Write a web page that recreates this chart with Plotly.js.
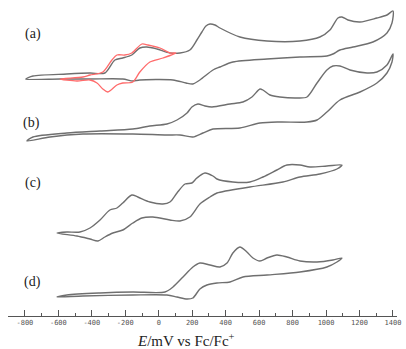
<!DOCTYPE html>
<html>
<head>
<meta charset="utf-8">
<script src="https://cdn.plot.ly/plotly-3.0.1.min.js"></script>
<style>html,body{margin:0;padding:0;background:#fff;}#chart{width:406px;height:349px;}</style>
</head>
<body>
<div id="chart"></div>
<script>
// Potentials (mV vs Fc/Fc+) and currents (arbitrary, offset per trace)
const aE = [-795,-752,-549,-411,-322,-262,-215,-161,-113,-71,-11,67,127,186,228,258,282,306,336,366,485,647,844,963,1023,1071,1095,1131,1203,1304,1364,1400,
            1394,1364,1280,1161,1083,1041,1005,844,647,443,366,324,246,204,163,85,-113,-155,-215,-411,-590,-795];
const aI = [237,240,242,243,243,256,258,261,268,269,267,263,263,266,276,284,290,292,291,288,279,275,275,279,286,298,299,296,294,298,301,305,
            293,283,274,269,266,262,260,259,257,254,249,246,236,232,233,236,236,235,237,237,237,237];

const aRedE = [-590,-453,-411,-334,-280,-250,-203,-161,-101,-65,7,67,103,
               25,-53,-113,-155,-215,-250,-304,-334,-369,-411,-489,-590];
const aRedI = [237,239,241,244,256,261,261,263,272,271,268,263,263,
               258,254,244,234,233,231,224,227,233,236,235,237];

const bE = [-788,-752,-549,-351,-155,-53,49,109,169,198,234,276,318,426,503,557,605,623,665,724,826,886,946,1005,1041,1083,1143,1245,1304,1364,1400,
            1394,1364,1304,1203,1083,1005,946,886,724,605,485,324,264,204,127,49,-155,-453,-650,-788];
const bI = [175,179,183,185,187,190,192,196,203,209,212,210,209,212,214,219,227,226,221,219,218,219,233,246,250,250,246,243,244,251,262,
            254,243,233,224,216,204,196,194,194,193,188,187,183,179,181,181,182,182,179,175];

const cE = [-608,-549,-471,-411,-351,-292,-250,-215,-161,-125,-53,25,67,109,157,198,228,276,324,348,443,545,623,706,766,844,904,1005,1095,
            1065,963,844,742,545,348,306,246,186,127,67,-35,-101,-155,-215,-274,-322,-363,-411,-489,-608];
const cI = [83,84,84,88,96,106,108,113,121,119,114,112,114,123,132,133,138,143,140,137,134,134,139,146,151,151,149,150,151,
            147,142,139,134,129,123,119,112,99,95,96,99,98,93,86,83,79,75,77,80,83];

const dE = [-608,-549,-351,-155,37,85,145,204,246,306,366,408,443,485,527,563,605,647,706,766,844,946,1041,1095,
            1065,1005,844,647,503,426,348,288,246,204,169,109,49,-155,-453,-608];
const dI = [19,21,23,24,24,29,39,49,53,51,49,53,63,69,64,58,55,58,61,59,55,54,56,58,
            54,49,44,41,39,34,33,31,27,18,17,19,21,21,20,19];

const tickVals = [-800,-600,-400,-200,0,200,400,600,800,1000,1200,1400];
const tickText = ['-800','-600','-400','-200','0','200','400','600','800','1000','1200','1400'];
const labels = ['(a)','(b)','(c)','(d)'];
const labelE = [-752,-758,-752,-752];
const labelI = [282,193,133,34];

const serif = 'Liberation Serif, Times New Roman, serif';
const gray = '#6f6f6f';
const lineG = {color: gray, width: 1.4, shape: 'spline', smoothing: 0.8};
const traces = [
  {x: aE, y: aI, mode: 'lines', line: lineG, hoverinfo: 'skip'},
  {x: bE, y: bI, mode: 'lines', line: lineG, hoverinfo: 'skip'},
  {x: cE, y: cI, mode: 'lines', line: lineG, hoverinfo: 'skip'},
  {x: dE, y: dI, mode: 'lines', line: lineG, hoverinfo: 'skip'},
  {x: aRedE, y: aRedI, mode: 'lines', line: {color: '#ff6b6b', width: 1.3, shape: 'spline', smoothing: 0.8}, hoverinfo: 'skip'}
];

const annotations = labels.map((t, i) => ({
  x: labelE[i], y: labelI[i], xref: 'x', yref: 'y', text: t, showarrow: false,
  font: {family: serif, size: 14, color: '#222'}
}));
annotations.push({
  x: 163, y: -0.076, xref: 'x', yref: 'paper', yanchor: 'middle', showarrow: false,
  text: '<i>E</i>/mV vs Fc/Fc<sup>+</sup>',
  font: {family: serif, size: 15, color: '#222'}
});

const layout = {
  width: 406, height: 349,
  margin: {l: 8, r: 9, t: 0, b: 33},
  paper_bgcolor: '#fff', plot_bgcolor: '#fff',
  showlegend: false,
  font: {family: serif},
  xaxis: {
    range: [-901, 1424], showgrid: false, zeroline: false,
    showline: true, linecolor: '#555', linewidth: 1,
    ticks: 'inside', ticklen: 6, tickwidth: 1, tickcolor: '#555',
    tickvals: tickVals, ticktext: tickText,
    tickfont: {family: 'DejaVu Sans Mono', size: 7, color: '#555'},
    minor: {tickvals: [-900,-700,-500,-300,-100,100,300,500,700,900,1100,1300], ticks: 'inside', ticklen: 3, tickcolor: '#555', tickwidth: 1, showgrid: false}
  },
  yaxis: {range: [0, 316], visible: false, fixedrange: true},
  annotations: annotations
};

Plotly.newPlot('chart', traces, layout, {staticPlot: true, displayModeBar: false});
</script>
</body>
</html>
